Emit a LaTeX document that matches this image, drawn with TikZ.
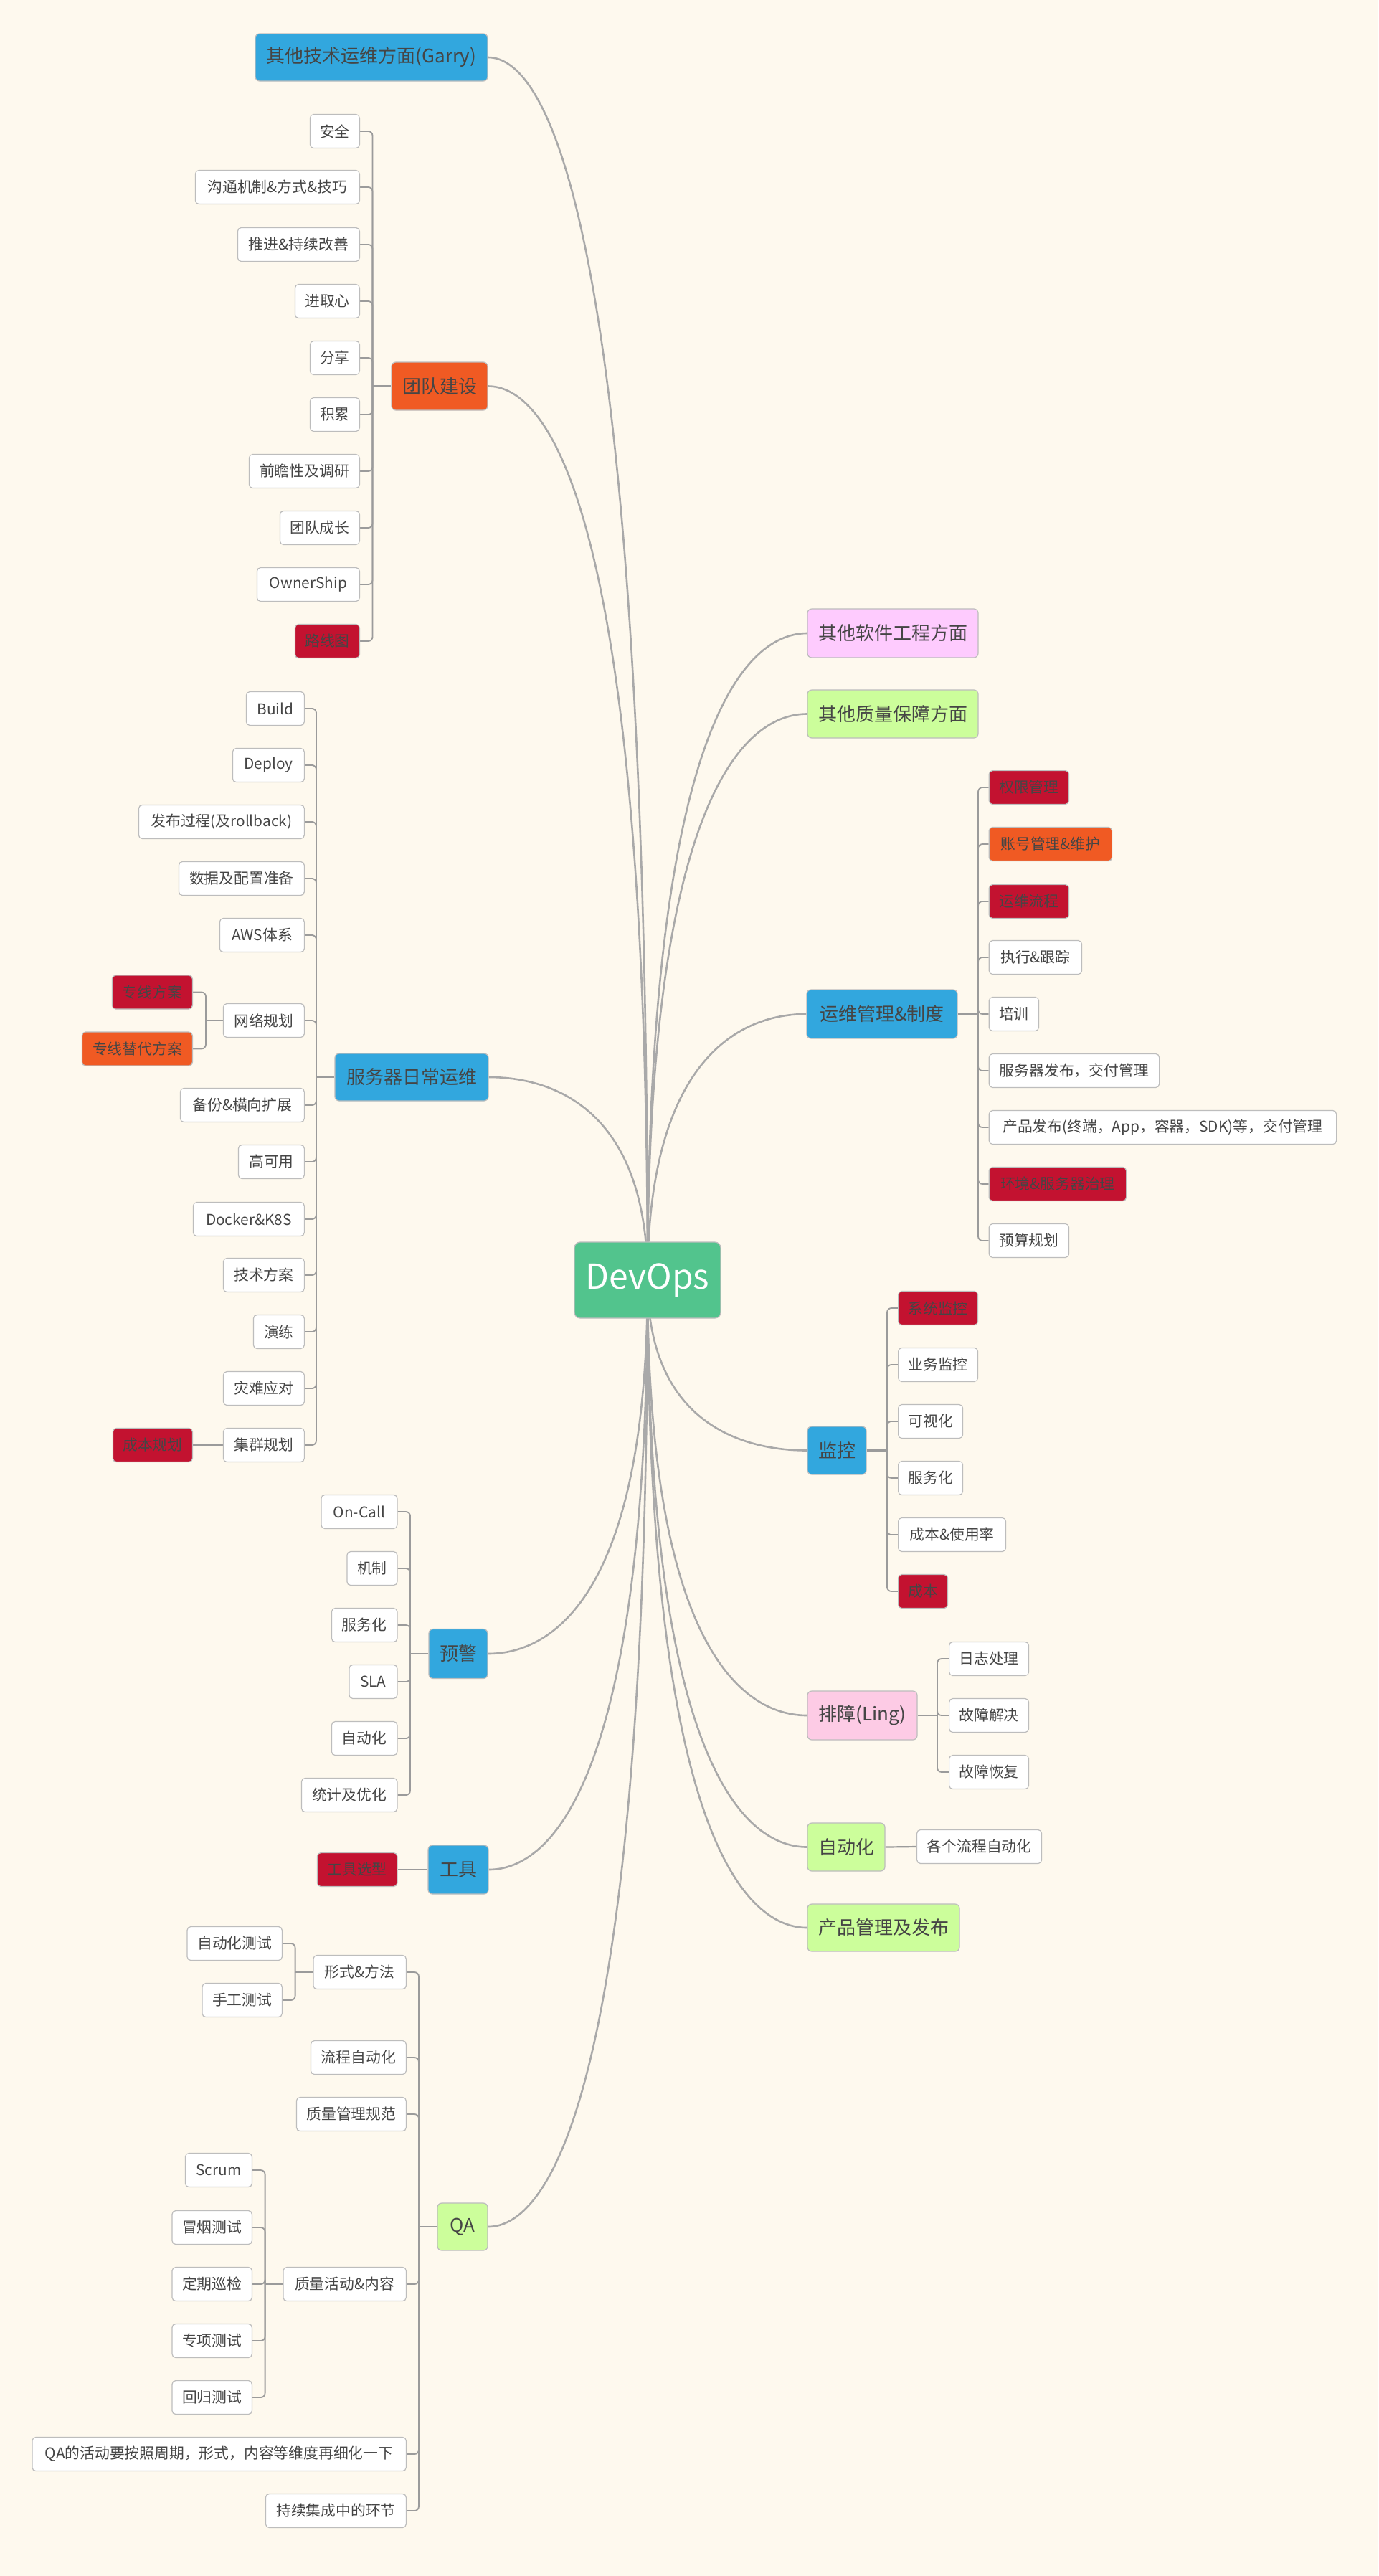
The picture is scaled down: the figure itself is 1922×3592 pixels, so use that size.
\documentclass[tikz,border=0pt]{standalone}
\usepackage{fontspec}
\setmainfont{Noto Sans CJK SC}
\usetikzlibrary{calc,backgrounds}
\definecolor{bgc}{HTML}{FEF9EE}
\definecolor{rootc}{HTML}{52C48D}
\definecolor{bluec}{HTML}{32A7DE}
\definecolor{orgc}{HTML}{F05A23}
\definecolor{redc}{HTML}{C31230}
\definecolor{pinkA}{HTML}{FECBFE}
\definecolor{pinkB}{HTML}{FDCBE5}
\definecolor{grnc}{HTML}{CCFE9B}
\definecolor{txt}{HTML}{454545}
\definecolor{bord}{HTML}{BDBDBD}
\definecolor{curvec}{HTML}{A9A9A9}
\definecolor{brc}{HTML}{9B9B9B}
\pgfdeclarelayer{back}
\pgfsetlayers{back,background,main}
\newcommand\rlink[1]{\draw[curve] (root.center) .. controls ($(root.center)!0.88!(root.center |- #1)$) and ($(#1)!0.35!(#1 -| root.center)$) .. (#1);}
\begin{document}
\begin{tikzpicture}[x=0.5pt,y=-0.5pt,
  box/.style={draw=bord, line width=0.6pt, text=txt, inner sep=0pt},
  leaf/.style={box, fill=white, rounded corners=2.5pt, minimum height=23.5pt, font=\fontsize{10.4pt}{12pt}\selectfont},
  wd/.style={minimum width=#1*0.5pt},
  hgt/.style={minimum height=#1*0.5pt},
  redleaf/.style={leaf, fill=redc},
  orgleaf/.style={leaf, fill=orgc},
  mainbox/.style={box, rounded corners=3pt, minimum height=33.5pt, font=\fontsize{13pt}{15pt}\selectfont},
  bluebox/.style={mainbox, fill=bluec},
  curve/.style={draw=curvec, line width=1.3pt},
  hub/.style={draw=brc, line width=1.1pt},
  br/.style={draw=brc, line width=0.9pt, rounded corners=3pt}]
\useasboundingbox (0,0) rectangle (1922,3592);
\begin{pgfonlayer}{back}
\fill[bgc] (0,0) rectangle (1922,3592);
\end{pgfonlayer}

% root
\node[box, fill=rootc, text=white, rounded corners=4pt, wd=204, hgt=106, font=\fontsize{24pt}{28pt}\selectfont] (root) at (903,1785) {DevOps};

% main branches, left
\node[bluebox, wd=324, hgt=66] (garry) at (518,80) {其他技术运维方面(Garry)};
\node[mainbox, fill=orgc, wd=134, hgt=67] (team) at (613,538.5) {团队建设};
\node[bluebox, wd=214, hgt=66] (server) at (574,1502) {服务器日常运维};
\node[bluebox, wd=82, hgt=69] (warn) at (639,2306) {预警};
\node[bluebox, wd=84, hgt=68] (tool) at (639,2607) {工具};
\node[mainbox, fill=grnc, wd=70, hgt=66] (qa) at (645,3105) {QA};

% main branches, right
\node[mainbox, fill=pinkA, wd=238, hgt=68] (soft) at (1245,883) {其他软件工程方面};
\node[mainbox, fill=grnc, wd=238, hgt=67] (qual) at (1245,995.5) {其他质量保障方面};
\node[bluebox, wd=210, hgt=68] (ops) at (1230,1414) {运维管理\&制度};
\node[bluebox, wd=82, hgt=67] (mon) at (1167,2022.5) {监控};
\node[mainbox, fill=pinkB, wd=153, hgt=68] (trb) at (1202.5,2392) {排障(Ling)};
\node[mainbox, fill=grnc, wd=108, hgt=67] (auto) at (1180,2575.5) {自动化};
\node[mainbox, fill=grnc, wd=212, hgt=66] (prod) at (1232,2688) {产品管理及发布};

% team children
\node[leaf, anchor=east, wd=69] (t1) at (502,183) {安全};
\node[leaf, anchor=east, wd=229] (t2) at (502,261) {沟通机制\&方式\&技巧};
\node[leaf, anchor=east, wd=170] (t3) at (502,341) {推进\&持续改善};
\node[leaf, anchor=east, wd=90] (t4) at (502,420) {进取心};
\node[leaf, anchor=east, wd=69] (t5) at (502,499) {分享};
\node[leaf, anchor=east, wd=69] (t6) at (502,578) {积累};
\node[leaf, anchor=east, wd=154] (t7) at (502,657) {前瞻性及调研};
\node[leaf, anchor=east, wd=111] (t8) at (502,736) {团队成长};
\node[leaf, anchor=east, wd=143] (t9) at (502,815) {OwnerShip};
\node[redleaf, anchor=east, wd=90] (t10) at (502,894) {路线图};

% server children
\node[leaf, anchor=east, wd=81] (s1) at (425,988) {Build};
\node[leaf, anchor=east, wd=100] (s2) at (425,1067) {Deploy};
\node[leaf, anchor=east, wd=231] (s3) at (425,1146) {发布过程(及rollback)};
\node[leaf, anchor=east, wd=175] (s4) at (425,1225) {数据及配置准备};
\node[leaf, anchor=east, wd=118] (s5) at (425,1304) {AWS体系};
\node[leaf, anchor=east, wd=113] (s6) at (425,1423) {网络规划};
\node[leaf, anchor=east, wd=173] (s7) at (425,1541) {备份\&横向扩展};
\node[leaf, anchor=east, wd=92] (s8) at (425,1620) {高可用};
\node[leaf, anchor=east, wd=155] (s9) at (425,1700) {Docker\&K8S};
\node[leaf, anchor=east, wd=113] (s10) at (425,1778) {技术方案};
\node[leaf, anchor=east, wd=71] (s11) at (425,1857) {演练};
\node[leaf, anchor=east, wd=113] (s12) at (425,1936) {灾难应对};
\node[leaf, anchor=east, wd=113] (s13) at (425,2015) {集群规划};
\node[redleaf, anchor=east, wd=112] (n1) at (269,1383.5) {专线方案};
\node[orgleaf, anchor=east, wd=154] (n2) at (269,1462.5) {专线替代方案};
\node[redleaf, anchor=east, wd=111] (c1) at (269,2015) {成本规划};

% warn children
\node[leaf, anchor=east, wd=106] (w1) at (554.5,2108) {On-Call};
\node[leaf, anchor=east, wd=70] (w2) at (554.5,2187) {机制};
\node[leaf, anchor=east, wd=91.5] (w3) at (554.5,2266) {服务化};
\node[leaf, anchor=east, wd=67] (w4) at (554.5,2345) {SLA};
\node[leaf, anchor=east, wd=91.5] (w5) at (554.5,2424) {自动化};
\node[leaf, anchor=east, wd=133.5] (w6) at (554.5,2503) {统计及优化};
\node[redleaf, anchor=east, wd=111.5] (tool1) at (554.5,2607) {工具选型};

% QA children
\node[leaf, anchor=east, wd=129.5] (q1) at (567,2750) {形式\&方法};
\node[leaf, anchor=east, wd=133] (q2) at (567,2869) {流程自动化};
\node[leaf, anchor=east, wd=153] (q3) at (567,2948) {质量管理规范};
\node[leaf, anchor=east, wd=171.5] (q4) at (567,3185) {质量活动\&内容};
\node[leaf, anchor=east, wd=521.5] (q5) at (567,3422) {QA的活动要按照周期，形式，内容等维度再细化一下};
\node[leaf, anchor=east, wd=196] (q6) at (567,3501) {持续集成中的环节};
\node[leaf, anchor=east, wd=132.4] (f1) at (394,2710) {自动化测试};
\node[leaf, anchor=east, wd=111.4] (f2) at (394,2789) {手工测试};
\node[leaf, anchor=east, wd=93] (a1) at (352,3026) {Scrum};
\node[leaf, anchor=east, wd=111.4] (a2) at (352,3106) {冒烟测试};
\node[leaf, anchor=east, wd=111.4] (a3) at (352,3185) {定期巡检};
\node[leaf, anchor=east, wd=111.4] (a4) at (352,3264) {专项测试};
\node[leaf, anchor=east, wd=111.4] (a5) at (352,3343) {回归测试};

% ops children
\node[redleaf, anchor=west, wd=111.4] (o1) at (1378.6,1098) {权限管理};
\node[orgleaf, anchor=west, wd=171.4] (o2) at (1378.6,1177) {账号管理\&维护};
\node[redleaf, anchor=west, wd=111.4] (o3) at (1378.6,1257) {运维流程};
\node[leaf, anchor=west, wd=129.4] (o4) at (1378.6,1335) {执行\&跟踪};
\node[leaf, anchor=west, wd=69.4] (o5) at (1378.6,1414) {培训};
\node[leaf, anchor=west, wd=237.4] (o6) at (1378.6,1493) {服务器发布，交付管理};
\node[leaf, anchor=west, wd=484.4] (o7) at (1378.6,1572) {产品发布(终端，App，容器，SDK)等，交付管理};
\node[redleaf, anchor=west, wd=191.4] (o8) at (1378.6,1651) {环境\&服务器治理};
\node[leaf, anchor=west, wd=111.4] (o9) at (1378.6,1730) {预算规划};

% monitor children
\node[redleaf, anchor=west, wd=111] (m1) at (1252,1824) {系统监控};
\node[leaf, anchor=west, wd=111] (m2) at (1252,1903) {业务监控};
\node[leaf, anchor=west, wd=90] (m3) at (1252,1982) {可视化};
\node[leaf, anchor=west, wd=90] (m4) at (1252,2061) {服务化};
\node[leaf, anchor=west, wd=150] (m5) at (1252,2140) {成本\&使用率};
\node[redleaf, anchor=west, wd=69] (m6) at (1252,2219) {成本};

% trouble children
\node[leaf, anchor=west, wd=111] (d1) at (1323,2313) {日志处理};
\node[leaf, anchor=west, wd=111] (d2) at (1323,2392) {故障解决};
\node[leaf, anchor=west, wd=111] (d3) at (1323,2471) {故障恢复};
\node[leaf, anchor=west, wd=174] (au1) at (1278,2575) {各个流程自动化};

% bracket junctions
\coordinate (tb) at (519.5,538.5);
\coordinate (sb) at (441,1502);
\coordinate (nb) at (287,1423);
\coordinate (wb) at (572,2306);
\coordinate (qb) at (584,3105);
\coordinate (fb) at (411.6,2750);
\coordinate (ab) at (369.6,3185);
\coordinate (ob) at (1364,1414);
\coordinate (mb) at (1237,2022.5);
\coordinate (db) at (1307,2392);

\begin{pgfonlayer}{background}
% root curves
\rlink{garry.east}
\rlink{team.east}
\rlink{server.east}
\rlink{warn.east}
\rlink{tool.east}
\rlink{qa.east}
\rlink{soft.west}
\rlink{qual.west}
\rlink{ops.west}
\rlink{mon.west}
\rlink{trb.west}
\rlink{auto.west}
\rlink{prod.west}
% brackets
\draw[hub] (team.west) -- (tb);
\foreach \c in {t1,t2,t3,t4,t5,t6,t7,t8,t9,t10} \draw[br] (tb) |- (\c.east);
\draw[hub] (server.west) -- (sb);
\foreach \c in {s1,s2,s3,s4,s5,s6,s7,s8,s9,s10,s11,s12,s13} \draw[br] (sb) |- (\c.east);
\draw[hub] (s6.west) -- (nb);
\foreach \c in {n1,n2} \draw[br] (nb) |- (\c.east);
\draw[hub] (s13.west) -- (c1.east);
\draw[hub] (warn.west) -- (wb);
\foreach \c in {w1,w2,w3,w4,w5,w6} \draw[br] (wb) |- (\c.east);
\draw[hub] (tool.west) -- (tool1.east);
\draw[hub] (qa.west) -- (qb);
\foreach \c in {q1,q2,q3,q4,q5,q6} \draw[br] (qb) |- (\c.east);
\draw[hub] (q1.west) -- (fb);
\foreach \c in {f1,f2} \draw[br] (fb) |- (\c.east);
\draw[hub] (q4.west) -- (ab);
\foreach \c in {a1,a2,a3,a4,a5} \draw[br] (ab) |- (\c.east);
\draw[hub] (ops.east) -- (ob);
\foreach \c in {o1,o2,o3,o4,o5,o6,o7,o8,o9} \draw[br] (ob) |- (\c.west);
\draw[hub] (mon.east) -- (mb);
\foreach \c in {m1,m2,m3,m4,m5,m6} \draw[br] (mb) |- (\c.west);
\draw[hub] (trb.east) -- (db);
\foreach \c in {d1,d2,d3} \draw[br] (db) |- (\c.west);
\draw[hub] (auto.east) -- (au1.west);
\end{pgfonlayer}
\end{tikzpicture}
\end{document}
